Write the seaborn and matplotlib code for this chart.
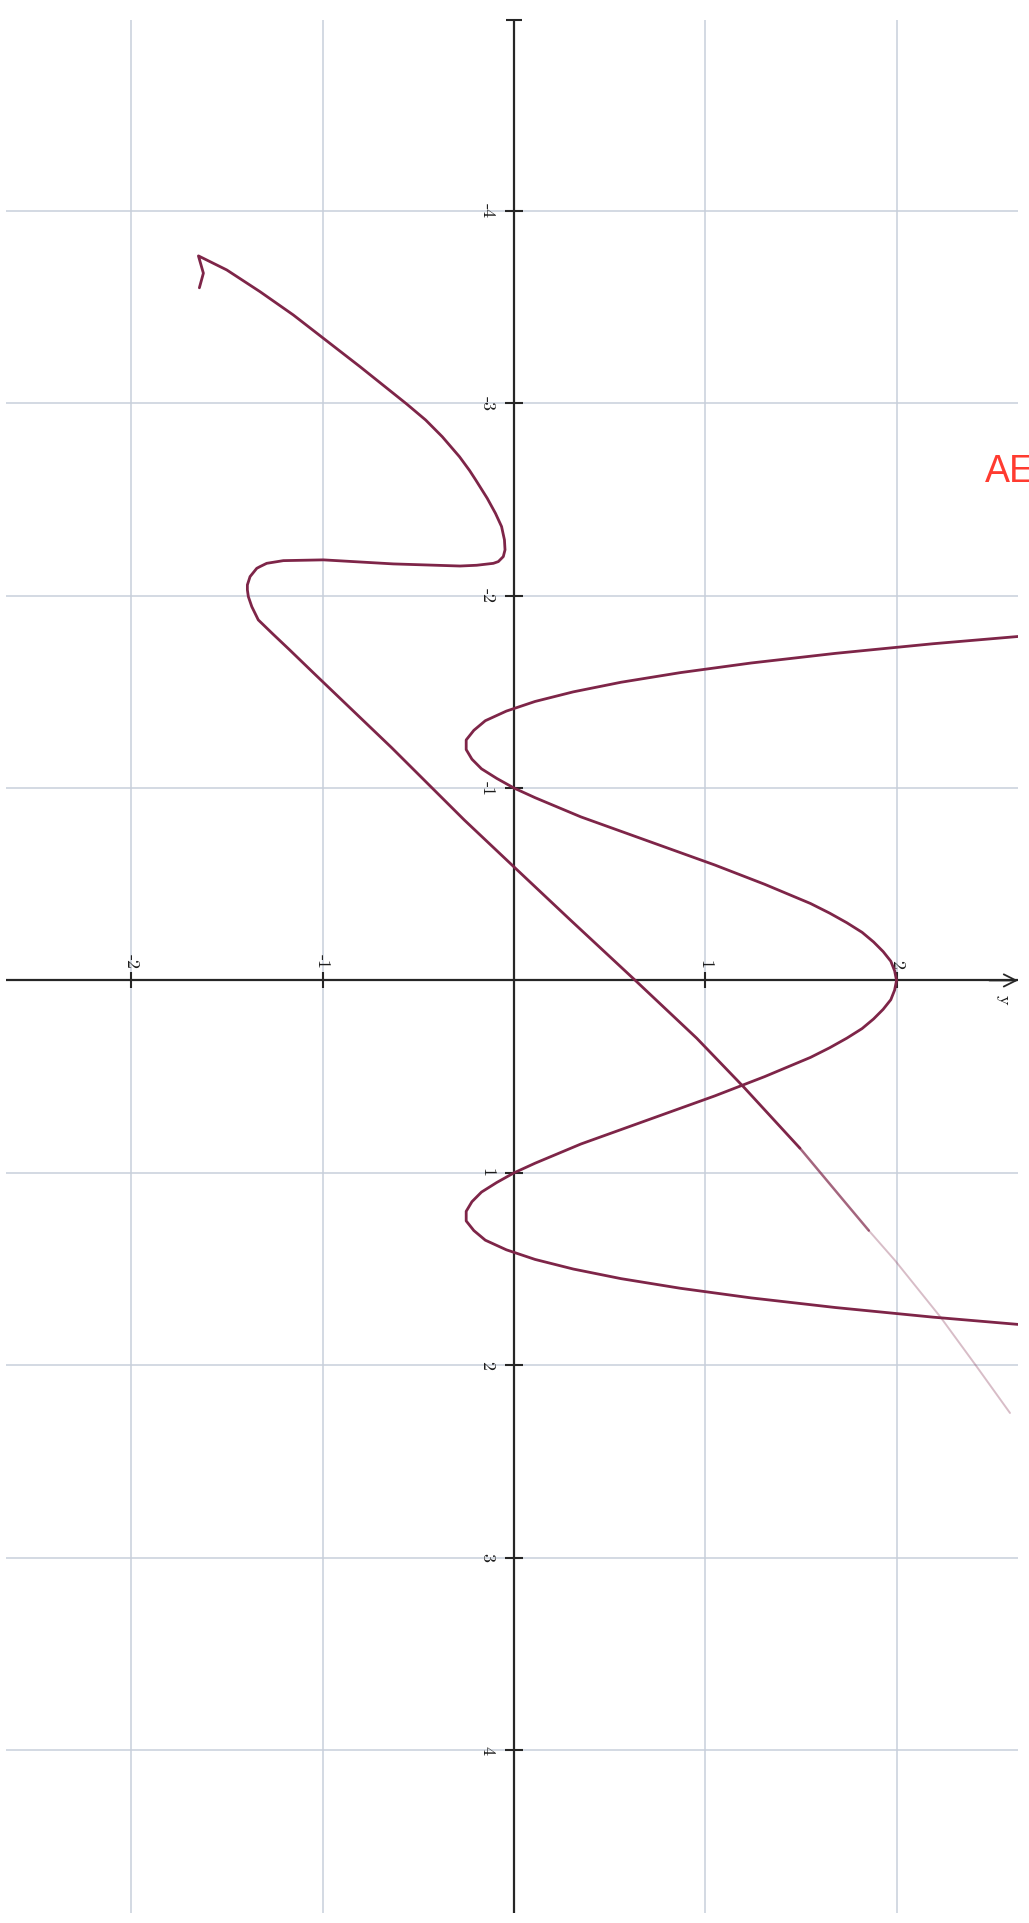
import matplotlib
matplotlib.use("Agg")
import matplotlib.pyplot as plt
import seaborn as sns

# ---- axis ticks --------------------------------------------------------
x_ticks = [-4, -3, -2, -1, 1, 2, 3, 4]
x_tick_labels = ["-4", "-3", "-2", "-1", "1", "2", "3", "4"]
y_ticks = [-2, -1, 1, 2]
y_tick_labels = ["-2", "-1", "1", "2"]

# ---- quartic curve (x runs down the page, y runs to the right) ----------
quartic_x = [-1.80, -1.75, -1.70, -1.65, -1.60, -1.55, -1.50, -1.45, -1.40,
             -1.35, -1.30, -1.25, -1.20, -1.15, -1.10, -1.05, -1.00, -0.95,
             -0.90, -0.85, -0.80, -0.75, -0.70, -0.65, -0.60, -0.55, -0.50,
             -0.45, -0.40, -0.35, -0.30, -0.25, -0.20, -0.15, -0.10, -0.05,
             0.00, 0.05, 0.10, 0.15, 0.20, 0.25, 0.30, 0.35, 0.40, 0.45,
             0.50, 0.55, 0.60, 0.65, 0.70, 0.75, 0.80, 0.85, 0.90, 0.95,
             1.00, 1.05, 1.10, 1.15, 1.20, 1.25, 1.30, 1.35, 1.40, 1.45,
             1.50, 1.55, 1.60, 1.65, 1.70, 1.75, 1.80]
quartic_y = [2.78, 2.19, 1.68, 1.24, 0.87, 0.56, 0.31, 0.11, -0.04,
             -0.15, -0.21, -0.25, -0.25, -0.22, -0.17, -0.09, 0.00, 0.11,
             0.23, 0.35, 0.49, 0.63, 0.77, 0.91, 1.05, 1.18, 1.31,
             1.43, 1.55, 1.65, 1.74, 1.82, 1.88, 1.93, 1.97, 1.99,
             2.00, 1.99, 1.97, 1.93, 1.88, 1.82, 1.74, 1.65, 1.55, 1.43,
             1.31, 1.18, 1.05, 0.91, 0.77, 0.63, 0.49, 0.35, 0.23, 0.11,
             0.00, -0.09, -0.17, -0.22, -0.25, -0.25, -0.21, -0.15, -0.04, 0.11,
             0.31, 0.56, 0.87, 1.24, 1.68, 2.19, 2.78]

# ---- hand-drawn curve, solid stroke -------------------------------------
sketch_x = [-3.600, -3.676, -3.766, -3.693, -3.580, -3.459, -3.338, -3.190,
            -2.996, -2.913, -2.826, -2.722, -2.650, -2.601, -2.506, -2.428,
            -2.359, -2.290, -2.238, -2.203, -2.177, -2.168, -2.158, -2.154,
            -2.165, -2.186, -2.182, -2.168, -2.151, -2.142, -2.099, -2.056,
            -2.030, -1.995, -1.943, -1.874, -1.800, -1.720, -1.600, -1.210,
            -0.834, -0.590, -0.314, 0.006, 0.300, 0.552, 0.872]
sketch_y = [-1.645, -1.624, -1.650, -1.502, -1.328, -1.154, -0.997, -0.805,
            -0.561, -0.462, -0.375, -0.285, -0.232, -0.200, -0.140, -0.097,
            -0.065, -0.050, -0.047, -0.056, -0.082, -0.108, -0.195, -0.282,
            -0.631, -0.997, -1.206, -1.293, -1.328, -1.345, -1.380, -1.394,
            -1.394, -1.389, -1.371, -1.337, -1.260, -1.175, -1.050, -0.640,
            -0.260, 0.000, 0.295, 0.641, 0.955, 1.199, 1.495]

# ---- fading tail of the hand-drawn curve --------------------------------
tail_mid_x = [0.872, 1.141, 1.300]
tail_mid_y = [1.495, 1.721, 1.855]
tail_end_x = [1.300, 1.453, 1.750, 2.007, 2.248]
tail_end_y = [1.855, 1.990, 2.230, 2.419, 2.593]

# ---- styling ------------------------------------------------------------
sns.set_theme(style="white")
plt.rcParams["font.family"] = ["cmr10", "DejaVu Serif"]
plt.rcParams["axes.unicode_minus"] = False

W, H = 1029, 1923
fig = plt.figure(figsize=(W / 100, H / 100), dpi=100)
fig.patch.set_facecolor("white")

# plotting window in pixels: left 6, right 1018, top 20, bottom 1913
ax = fig.add_axes([6 / W, 1 - 1913 / H, 1012 / W, 1893 / H])
xlim = (-2.656, 2.635)
ylim = (4.847, -4.992)

grid_col = "#c8cfdb"
for v in y_ticks:
    ax.axvline(v, color=grid_col, lw=1.1, zorder=1)
for v in x_ticks:
    ax.axhline(v, color=grid_col, lw=1.1, zorder=1)

axis_col = "#262626"
ax.axvline(0, color=axis_col, lw=1.6, zorder=2)
ax.axhline(0, color=axis_col, lw=1.6, zorder=2)
ax.plot([0] * len(x_ticks), x_ticks, ls="none", marker="_",
        ms=13, mew=1.5, color=axis_col, zorder=2)
ax.plot(y_ticks, [0] * len(y_ticks), ls="none", marker="|",
        ms=12, mew=1.5, color=axis_col, zorder=2)
# cap at the top end of the vertical axis
ax.plot([0], [ylim[1]], marker="_", ms=12, mew=1.5,
        color=axis_col, clip_on=False, zorder=2)
# arrow head at the right end of the horizontal axis
ax.annotate("", xy=(xlim[1], 0), xytext=(xlim[1] - 0.15, 0),
            arrowprops=dict(arrowstyle="->", lw=1.3, color=axis_col,
                            mutation_scale=22, shrinkA=0, shrinkB=0),
            annotation_clip=False, zorder=3)

lab_kw = dict(fontsize=13, color="#1c1c1c", rotation=-90, family="cmr10")
for v, t in zip(x_ticks, x_tick_labels):
    ax.text(-0.10, v, t, ha="right", va="center", **lab_kw)
for v, t in zip(y_ticks, y_tick_labels):
    ax.text(v, -0.06, t, ha="center", va="bottom", **lab_kw)
ax.text(2.556, 0.10, "y", ha="center", va="center", **lab_kw)

curve_col = "#7e2548"
line_kw = dict(sort=False, estimator=None, ax=ax, color=curve_col, zorder=4)
sns.lineplot(x=quartic_y, y=quartic_x, lw=2.0, **line_kw)
sns.lineplot(x=sketch_y, y=sketch_x, lw=2.0, **line_kw)
sns.lineplot(x=tail_mid_y, y=tail_mid_x, lw=1.8, alpha=0.7, **line_kw)
sns.lineplot(x=tail_end_y, y=tail_end_x, lw=1.4, alpha=0.3, **line_kw)

ax.set_xlim(*xlim)
ax.set_ylim(*ylim)
ax.axis("off")

fig.text(985 / W, 1 - 482 / H, "AE", ha="left", va="baseline",
         fontsize=27, color="#ff3b30", family="Liberation Sans")

fig.savefig("out.png", dpi=100, facecolor="white")
